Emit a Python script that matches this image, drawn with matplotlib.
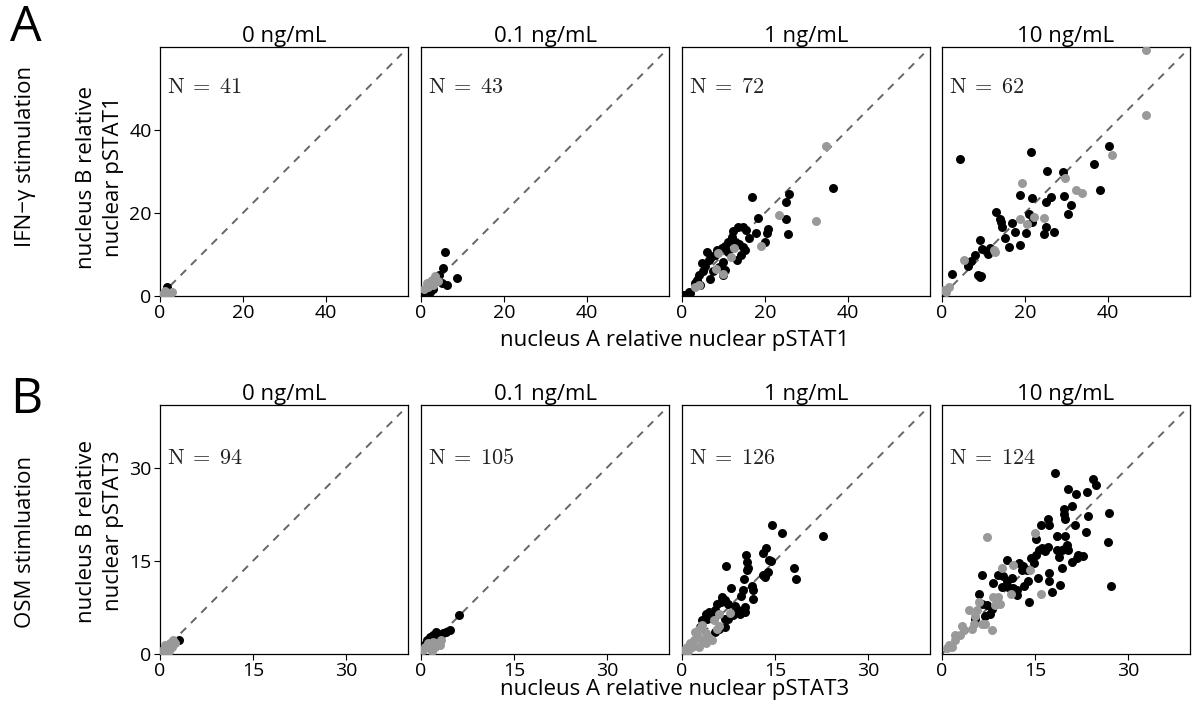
import numpy as np
import matplotlib.pyplot as plt

plt.rcParams['font.family'] = ['Open Sans', 'DejaVu Sans']
plt.rcParams['mathtext.fontset'] = 'cm'

doses = ['0 ng/mL', '0.1 ng/mL', '1 ng/mL', '10 ng/mL']
ifn_counts = [41, 43, 72, 62]
osm_counts = [94, 105, 126, 124]

# (nucleus A, nucleus B) pairs, black = one group, grey = the other
ifn_0_black = [(1.6, 2.2), (1.3, 0.5)]
ifn_0_grey = [(2.0, 0.7), (0.8, 0.6), (2.8, 1.0), (1.2, 1.3), (0.4, 0.3), (2.4, 0.5)]

ifn_01_black = [(5.8, 10.5), (5.4, 6.8), (8.6, 4.3), (6.2, 2.7), (4.4, 5.1), (5.0, 3.1),
                (1.0, 1.4), (0.6, 0.8), (2.2, 1.0), (3.0, 1.8), (0.3, 0.3)]
ifn_01_grey = [(2.6, 3.9), (3.4, 4.7), (1.8, 2.2), (4.2, 3.5), (1.4, 3.1), (3.0, 2.7),
               (2.2, 3.4), (0.8, 1.8)]

ifn_1_black = [(36.4, 26.1), (25.9, 24.5), (25.1, 22.5), (25.1, 18.5), (25.5, 14.9), (17.0, 23.9),
               (18.3, 18.7), (20.7, 16.1), (20.5, 15.1), (20.1, 12.9), (17.8, 15.1), (16.1, 13.9),
               (12.4, 15.7), (13.5, 16.5), (14.6, 16.7), (15.4, 15.9), (12.0, 14.3), (14.6, 11.7),
               (15.3, 11.1), (14.3, 9.9), (13.3, 8.7), (10.4, 12.0), (9.6, 11.5), (11.2, 10.7),
               (10.0, 8.3), (10.3, 6.3), (10.0, 5.1), (7.1, 9.5), (6.4, 8.7), (5.6, 7.1),
               (4.8, 7.9), (7.6, 5.9), (6.7, 4.0), (4.0, 5.1), (3.6, 3.9), (3.2, 3.1),
               (4.4, 2.7), (2.0, 0.8), (1.6, 1.0), (0.4, 0.3), (6.0, 10.7), (8.0, 9.9),
               (12.9, 13.0), (13.7, 12.5), (11.0, 13.0), (9.0, 7.0), (5.0, 6.0), (8.5, 11.0)]
ifn_1_grey = [(34.8, 36.1), (32.4, 18.1), (23.3, 19.5), (19.1, 12.0), (11.9, 9.5), (8.8, 10.4),
              (8.2, 6.5), (3.2, 2.2), (4.0, 2.7), (12.6, 11.5), (9.8, 5.3)]

ifn_10_black = [(40.2, 36.1), (36.6, 31.8), (38.0, 25.5), (4.4, 32.9), (21.4, 34.6), (25.3, 30.0),
                (29.2, 29.8), (18.7, 24.3), (21.7, 23.5), (25.0, 22.6), (26.4, 23.9), (29.5, 24.1),
                (31.2, 22.0), (30.4, 19.8), (13.1, 20.3), (13.9, 18.6), (14.3, 17.7), (14.5, 16.7),
                (21.1, 19.8), (21.8, 17.9), (25.1, 16.7), (17.0, 17.5), (17.5, 15.3), (20.2, 15.1),
                (24.6, 14.8), (27.0, 15.4), (15.2, 14.0), (16.1, 11.9), (18.7, 12.3), (9.2, 13.4),
                (9.6, 11.4), (11.5, 11.6), (11.1, 10.1), (8.0, 9.9), (7.0, 8.4), (6.3, 7.1),
                (2.5, 5.4), (8.7, 5.0), (9.1, 4.6), (9.5, 4.7), (0.2, 0.6)]
ifn_10_grey = [(49.3, 59.3), (49.2, 43.6), (40.9, 33.9), (32.4, 25.4), (33.8, 24.9), (29.6, 28.4),
               (19.4, 27.3), (18.9, 18.6), (22.3, 19.0), (20.6, 17.3), (24.7, 18.8), (12.6, 11.1),
               (12.8, 10.7), (5.3, 8.7), (1.8, 2.2), (0.6, 1.4), (1.0, 1.0)]

osm_0_black = [(3.05, 2.25), (1.3, 0.6)]
osm_0_grey = [(2.1, 2.25), (1.6, 1.7), (1.1, 1.2), (0.5, 0.6), (1.9, 1.2), (0.8, 1.4),
              (2.4, 1.8), (0.3, 0.2), (1.4, 0.4)]

osm_01_black = [(6.2, 6.3), (4.7, 3.9), (4.1, 3.6), (3.6, 3.3), (2.5, 3.6), (2.0, 3.1),
                (1.4, 2.8), (0.9, 2.3), (3.1, 2.8), (0.5, 1.5)]
osm_01_grey = [(1.2, 1.7), (2.0, 2.0), (2.5, 1.7), (3.1, 1.4), (0.6, 1.2), (0.4, 0.6),
               (1.4, 0.9), (3.3, 2.3), (2.25, 1.2), (1.8, 0.5)]

osm_1_black = [(14.5, 20.7), (16.2, 19.4), (22.8, 19.0), (18.0, 13.9), (18.4, 12.1), (13.5, 17.1),
               (13.1, 16.3), (14.0, 15.2), (14.4, 14.9), (10.3, 15.9), (10.5, 14.8), (10.6, 13.8),
               (10.5, 13.5), (7.1, 14.1), (13.8, 13.2), (13.4, 12.4), (13.1, 12.7), (10.0, 12.0),
               (11.3, 11.0), (11.5, 10.3), (11.4, 8.8), (9.9, 10.3), (9.6, 9.4), (7.9, 10.6),
               (6.4, 9.2), (7.0, 8.7), (6.3, 8.4), (5.6, 8.0), (7.5, 8.1), (8.6, 7.7),
               (9.1, 7.1), (10.2, 7.6), (10.1, 6.8), (9.4, 6.5), (8.3, 6.3), (7.5, 5.6),
               (7.0, 5.7), (5.4, 7.1), (4.3, 6.8), (3.8, 6.5), (5.1, 6.0), (4.0, 5.7),
               (5.9, 4.0), (5.4, 3.6), (3.2, 5.5), (2.9, 4.4), (7.0, 4.4)]
osm_1_grey = [(7.8, 6.6), (5.9, 6.5), (5.1, 5.5), (6.0, 4.5), (5.6, 4.1), (3.2, 4.7),
              (2.7, 4.1), (2.1, 3.6), (2.4, 3.1), (3.8, 3.3), (4.3, 2.5), (3.2, 2.3),
              (1.9, 2.3), (1.3, 1.7), (0.8, 1.2), (0.4, 0.6), (4.8, 2.3), (3.8, 1.7),
              (2.7, 1.2), (1.6, 1.2), (1.0, 0.4)]

osm_10_black = [(18.2, 29.2), (24.3, 28.1), (24.8, 27.2), (20.4, 26.5), (21.6, 25.7), (23.4, 26.0),
                (20.9, 23.8), (19.6, 23.3), (19.7, 22.5), (19.8, 21.8), (27.0, 22.7), (23.6, 22.2),
                (17.1, 21.8), (17.3, 20.8), (15.9, 20.7), (21.4, 20.7), (23.3, 19.7), (15.1, 18.5),
                (18.5, 19.0), (19.8, 19.0), (20.1, 17.5), (19.6, 16.9), (26.8, 18.1), (16.1, 17.0),
                (17.1, 17.2), (16.6, 16.5), (15.6, 16.7), (18.5, 16.7), (19.3, 16.7), (20.4, 16.7),
                (18.8, 15.6), (22.0, 15.9), (22.8, 15.8), (21.7, 15.4), (20.9, 14.8), (19.3, 13.9),
                (14.4, 15.5), (14.9, 14.6), (15.2, 15.9), (10.5, 15.1), (12.4, 14.6), (13.1, 14.1),
                (12.9, 13.5), (13.7, 13.5), (15.5, 12.3), (13.8, 11.8), (13.3, 11.0), (12.1, 10.3),
                (17.3, 13.0), (17.3, 11.8), (19.0, 11.1), (17.7, 9.9), (27.2, 10.9), (6.4, 12.7),
                (9.1, 12.7), (9.9, 12.5), (10.5, 11.8), (11.3, 12.2), (10.7, 10.8), (9.6, 10.8),
                (11.5, 10.7), (12.1, 9.5), (8.2, 11.4), (14.1, 8.3), (6.0, 9.6), (6.4, 8.1),
                (7.2, 7.9), (8.0, 7.3), (7.8, 6.5), (7.0, 6.1), (5.4, 5.7)]
osm_10_grey = [(15.0, 19.5), (7.2, 18.9), (11.5, 14.3), (14.2, 13.5), (9.6, 13.8), (11.1, 9.6),
               (16.0, 9.6), (8.3, 9.2), (9.1, 9.2), (9.4, 8.1), (8.5, 7.9), (5.9, 8.3),
               (5.6, 7.1), (4.3, 7.1), (5.4, 6.1), (6.4, 4.9), (7.0, 4.9), (8.0, 3.9),
               (4.8, 4.1), (5.1, 4.9), (3.2, 4.5), (3.5, 3.9), (2.9, 3.1), (2.1, 3.1),
               (2.1, 2.3), (1.1, 1.4), (0.8, 0.9), (1.6, 1.1)]

ifn_black = [ifn_0_black, ifn_01_black, ifn_1_black, ifn_10_black]
ifn_grey = [ifn_0_grey, ifn_01_grey, ifn_1_grey, ifn_10_grey]
osm_black = [osm_0_black, osm_01_black, osm_1_black, osm_10_black]
osm_grey = [osm_0_grey, osm_01_grey, osm_1_grey, osm_10_grey]

rows = [
    dict(letter='A', stim='IFN\u2212\u03b3 stimulation', protein='pSTAT1', black=ifn_black,
         grey=ifn_grey, counts=ifn_counts, lim=59.8, line_end=58.3, ticks=[0, 20, 40],
         bottom=0.5831, n_y=0.84, letter_y=0.9606, stim_y=0.779, ylab_y=0.7507, xlab_y=0.5211),
    dict(letter='B', stim='OSM stimluation', protein='pSTAT3', black=osm_black,
         grey=osm_grey, counts=osm_counts, lim=40, line_end=39, ticks=[0, 15, 30],
         bottom=0.0789, n_y=0.787, letter_y=0.4366, stim_y=0.2366, ylab_y=0.2521, xlab_y=0.0282),
]

lefts = [0.1338, 0.3520, 0.5702, 0.7876]
width = 0.2074
height = 0.3500

fig = plt.figure(figsize=(11.96, 7.10), dpi=100)

for row in rows:
    for j in range(4):
        ax = fig.add_axes([lefts[j], row['bottom'], width, height])
        lim = row['lim']
        ax.plot([0, row['line_end']], [0, row['line_end']], '--', color='#666666',
                lw=1.4, dashes=(4, 3.5), zorder=1)
        b = np.array(row['black'][j])
        g = np.array(row['grey'][j])
        ax.scatter(b[:, 0], b[:, 1], s=42, color='black', linewidths=0, zorder=2)
        ax.scatter(g[:, 0], g[:, 1], s=42, color='#999999', linewidths=0, zorder=3)
        ax.set_xlim(0, lim)
        ax.set_ylim(0, lim)
        ax.set_xticks(row['ticks'])
        ax.set_yticks(row['ticks'])
        ax.tick_params(direction='out', length=4, width=0.8, labelsize=14, pad=2)
        if j > 0:
            ax.tick_params(axis='y', left=False, labelleft=False)
        for sp in ax.spines.values():
            sp.set_linewidth(0.9)
        ax.set_title(doses[j], fontsize=16, pad=4)
        ax.text(0.03, row['n_y'], r'$\mathrm{N}\;=\;%d$' % row['counts'][j],
                transform=ax.transAxes, fontsize=16, va='center', ha='left', color='#222222')

    fig.text(0.0217, row['letter_y'], row['letter'], fontsize=36, ha='center', va='center')
    fig.text(0.0217, row['stim_y'], row['stim'], fontsize=16, rotation=90,
             ha='center', va='center')
    fig.text(0.0836, row['ylab_y'], 'nucleus B relative\nnuclear ' + row['protein'],
             fontsize=16, rotation=90, ha='center', va='center', linespacing=1.4,
             multialignment='center')
    fig.text(0.5644, row['xlab_y'], 'nucleus A relative nuclear ' + row['protein'],
             fontsize=16, ha='center', va='center')

fig.savefig('out.png', dpi=100)
